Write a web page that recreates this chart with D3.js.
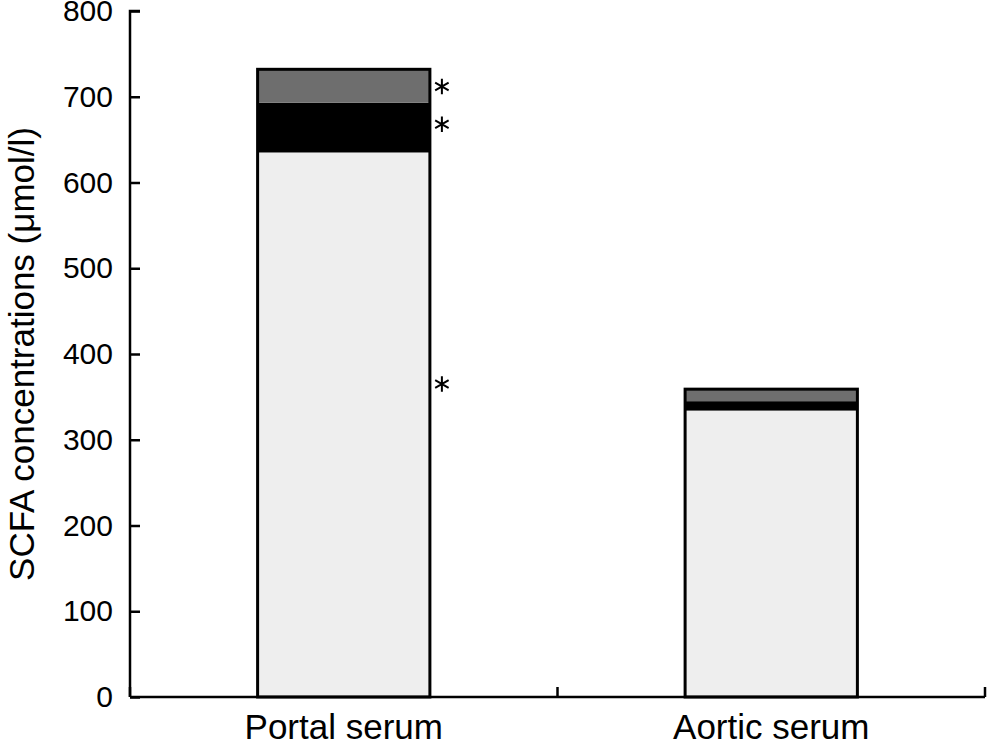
<!DOCTYPE html>
<html>
<head>
<meta charset="utf-8">
<script src="https://cdn.jsdelivr.net/npm/d3@7"></script>
<style>
  html, body { margin: 0; padding: 0; background: #fff; }
  svg { display: block; font-family: "Liberation Sans", Arial, sans-serif; }
</style>
</head>
<body>
<svg id="chart" width="987" height="740"></svg>
<script>
// ---- data ----
const categories = ["Portal serum", "Aortic serum"];
const seriesNames = ["Acetate", "Propionate", "Butyrate"];
const acetate    = [635, 334];
const propionate = [58, 11];
const butyrate   = [39, 14];
const yTicks = [0, 100, 200, 300, 400, 500, 600, 700, 800];
// significance markers (category index, value)
const starCategory = [0, 0, 0];
const starValues   = [365, 668, 712];

(function () {
// ---- layout ----
const svg = d3.select("#chart");
const mLeft = 130, mRight = 985, mTop = 11, mBottom = 697;
const colors = ["#eeeeee", "#000000", "#6e6e6e"];

const x = d3.scaleBand().domain(categories).range([mLeft, mRight]).padding(0);
const y = d3.scaleLinear().domain([0, 800]).range([mBottom, mTop]);

const table = categories.map((c, i) => ({
  cat: c, Acetate: acetate[i], Propionate: propionate[i], Butyrate: butyrate[i]
}));
const stacked = d3.stack().keys(seriesNames)(table);

const barFrac = 0.403;
const bw = x.bandwidth() * barFrac;
const bx = c => x(c) + (x.bandwidth() - bw) / 2;

// segments
svg.append("g").selectAll("g").data(stacked).join("g")
  .attr("fill", (d, i) => colors[i])
  .selectAll("rect").data(d => d).join("rect")
  .attr("x", d => bx(d.data.cat))
  .attr("width", bw)
  .attr("y", d => y(d[1]))
  .attr("height", d => y(d[0]) - y(d[1]));

// outline around whole stack
const total = d => d.Acetate + d.Propionate + d.Butyrate;
svg.append("g").selectAll("rect").data(table).join("rect")
  .attr("x", d => bx(d.cat))
  .attr("width", bw)
  .attr("y", d => y(total(d)))
  .attr("height", d => y(0) - y(total(d)))
  .attr("fill", "none")
  .attr("stroke", "#000")
  .attr("stroke-width", 3);

// y axis
const yAxis = d3.axisRight(y).tickValues(yTicks).tickSize(10).tickFormat(d3.format("d"));
const gy = svg.append("g").attr("transform", `translate(${mLeft},0)`).call(yAxis);
gy.select(".domain").attr("d", `M10,${mTop}H0V${mBottom}`).attr("stroke-width", 2.5);
gy.selectAll(".tick line").attr("stroke-width", 2.5);
gy.selectAll(".tick text")
  .attr("x", -17).attr("text-anchor", "end")
  .attr("font-size", 30).attr("fill", "#000")
  .attr("font-family", "Liberation Sans, Arial, sans-serif");

// x axis (ticks at band boundaries, pointing up)
const gx = svg.append("g").attr("transform", `translate(0,${mBottom})`);
gx.append("line").attr("x1", mLeft).attr("x2", mRight).attr("y1", 0).attr("y2", 0)
  .attr("stroke", "#000").attr("stroke-width", 2.5);
const boundaries = categories.map(c => x(c)).concat([x(categories[categories.length - 1]) + x.bandwidth()]);
gx.selectAll("line.tk").data(boundaries).join("line").attr("class", "tk")
  .attr("x1", d => d).attr("x2", d => d).attr("y1", 0).attr("y2", -10)
  .attr("stroke", "#000").attr("stroke-width", 2.5);
gx.selectAll("text").data(categories).join("text")
  .attr("x", d => x(d) + x.bandwidth() / 2)
  .attr("y", 42)
  .attr("text-anchor", "middle")
  .attr("font-size", 35)
  .attr("fill", "#000")
  .text(d => d);

// y title
svg.append("text")
  .attr("transform", `translate(34,${(mTop + mBottom) / 2}) rotate(-90)`)
  .attr("text-anchor", "middle")
  .attr("font-size", 35)
  .attr("fill", "#000")
  .text("SCFA concentrations (μmol/l)");

// stars
const star = d3.symbol().type(d3.symbolAsterisk).size(170);
svg.append("g").selectAll("path").data(starValues).join("path")
  .attr("transform", (d, i) => `translate(${bx(categories[starCategory[i]]) + bw + 12},${y(d)})`)
  .attr("d", star)
  .attr("fill", "none")
  .attr("stroke", "#000")
  .attr("stroke-width", 2);
})();
</script>
</body>
</html>
